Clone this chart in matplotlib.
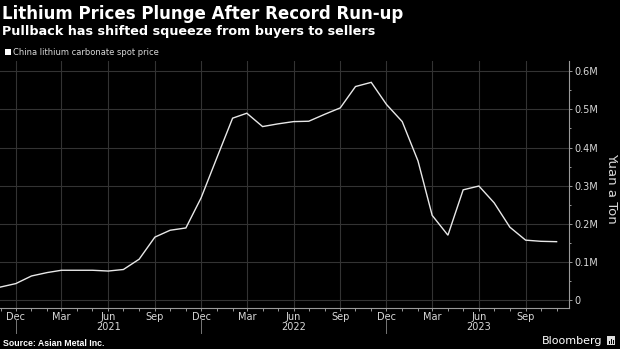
import numpy as np
import matplotlib
matplotlib.use('Agg')
import matplotlib.pyplot as plt
import matplotlib.dates as mdates
import matplotlib.transforms as mtransforms
from matplotlib.patches import Rectangle
from matplotlib.ticker import FuncFormatter, MultipleLocator
import pandas as pd

# monthly spot price, yuan per ton
months = pd.date_range('2020-11-01', '2023-11-01', freq='MS')
price = [34000, 43000,
         63000, 72000, 78000, 78000, 78000, 76000, 80000, 107000, 165000, 183000, 189000, 268000,
         373000, 477000, 490000, 455000, 462000, 468000, 469000, 487000, 504000, 560000, 571000, 513000,
         468000, 365000, 222000, 170000, 289000, 299000, 255000, 191000, 157000, 154000, 153000]
years = [2021, 2022, 2023]
year_breaks = ['2020-12-01', '2021-12-01', '2022-12-01']

title = 'Lithium Prices Plunge After Record Run-up'
subtitle = 'Pullback has shifted squeeze from buyers to sellers'
series_name = 'China lithium carbonate spot price'

bg = 'black'
grid_col = '#333333'
tick_col = '#d9d9d9'
spine_col = '#9a9a9a'

plt.rcParams['font.family'] = 'DejaVu Sans'

W, H = 620, 349
fig = plt.figure(figsize=(W / 100, H / 100), dpi=100, facecolor=bg)
ax = fig.add_axes([0, (H - 307.7) / H, 569.3 / W, (307.7 - 61) / H], facecolor=bg)

ax.plot(months, price, color='#e8e8e8', lw=1.0, solid_joinstyle='miter')

ax.set_xlim(pd.Timestamp('2020-10-31'), pd.Timestamp('2023-11-26'))
ax.set_ylim(-20200, 627000)

ax.xaxis.set_major_locator(mdates.MonthLocator(bymonth=[3, 6, 9, 12]))
ax.xaxis.set_minor_locator(mdates.MonthLocator())
ax.xaxis.set_major_formatter(mdates.DateFormatter('%b'))

ax.yaxis.tick_right()
ax.yaxis.set_major_locator(MultipleLocator(100000))
ax.yaxis.set_minor_locator(MultipleLocator(50000))
ax.yaxis.set_major_formatter(FuncFormatter(lambda v, p: '0' if v == 0 else f'{v / 1e6:.1f}M'))

ax.grid(True, which='major', color=grid_col, lw=0.8)
ax.set_axisbelow(True)

for s in ['top', 'left']:
    ax.spines[s].set_visible(False)
for s in ['bottom', 'right']:
    ax.spines[s].set_color(spine_col)
    ax.spines[s].set_linewidth(0.8)

ax.tick_params(axis='x', which='both', direction='out', length=2, width=0.7,
               color=spine_col, labelcolor=tick_col, labelsize=7, pad=1)
ax.tick_params(axis='y', which='major', direction='out', length=2.5, width=0.7,
               color=spine_col, labelcolor=tick_col, labelsize=7, pad=1.5)
ax.tick_params(axis='y', which='minor', direction='out', length=1.5, width=0.7, color=spine_col)

# year row under the month labels
trans = mtransforms.blended_transform_factory(ax.transData, ax.transAxes)
for yr in years:
    ax.text(pd.Timestamp(f'{yr}-06-01'), -0.078, str(yr), transform=trans,
            ha='center', va='center', fontsize=7, color=tick_col)
for d in year_breaks:
    ax.plot([pd.Timestamp(d)] * 2, [-0.046, -0.103], transform=trans,
            color='#777777', lw=0.7, clip_on=False)

# headings
fig.text(2 / W, 1 - 19 / H, title, fontsize=12, fontweight='bold', color='white', va='baseline')
fig.text(2 / W, 1 - 34.5 / H, subtitle, fontsize=9.15, fontweight='bold', color='white', va='baseline')
fig.patches.append(Rectangle((5 / W, 1 - 55 / H), 6 / W, 6 / H, transform=fig.transFigure,
                             facecolor='white', edgecolor='none'))
fig.text(13 / W, 1 - 55 / H, series_name, fontsize=6, color=tick_col, va='baseline')

fig.text(611.7 / W, 1 - 188 / H, 'Yuan a Ton', rotation=270, fontsize=9.5,
         color=tick_col, ha='center', va='center')

fig.text(3 / W, 3.5 / H, 'Source: Asian Metal Inc.', fontsize=6.3, fontweight='bold',
         family='Liberation Sans', color='white', va='baseline')
fig.text(602.5 / W, 4.5 / H, 'Bloomberg', fontsize=8, color='white', ha='right', va='baseline')
# small logo box after the wordmark
fig.patches.append(Rectangle((607 / W, 4 / H), 8 / W, 9 / H, transform=fig.transFigure,
                             facecolor='#dddddd', edgecolor='none'))
for i, h in enumerate([3, 5, 4]):
    fig.patches.append(Rectangle(((608.5 + i * 2) / W, 5.5 / H), 1 / W, h / H,
                                 transform=fig.transFigure, facecolor='black', edgecolor='none'))

fig.savefig('out.png', dpi=100, facecolor=bg)
